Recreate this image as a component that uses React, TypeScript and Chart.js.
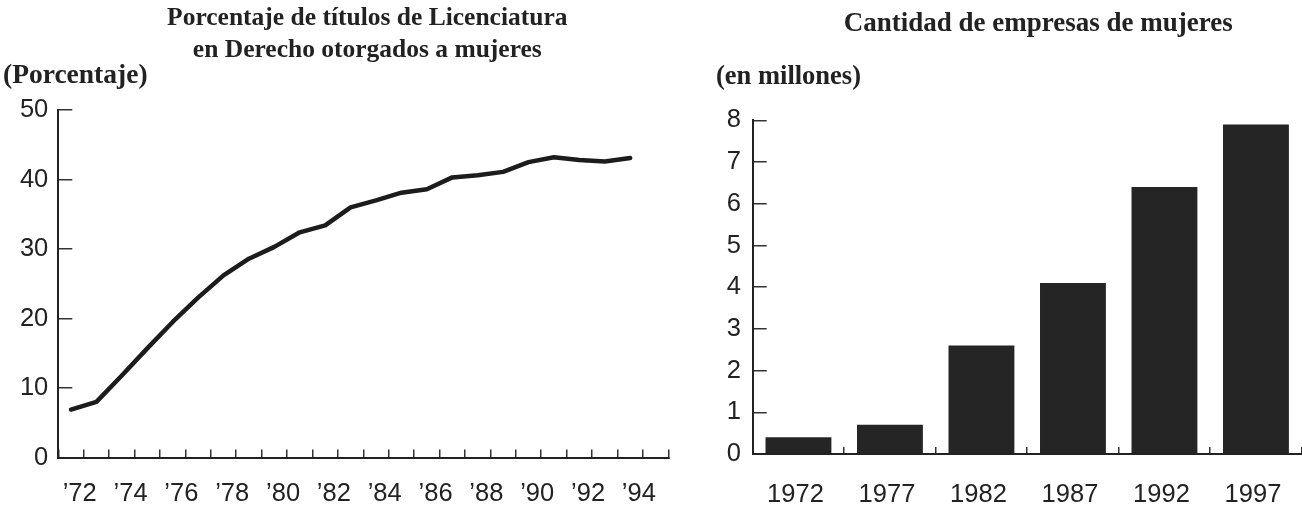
import React, { useEffect, useRef } from "react";
import { Chart, registerables } from "chart.js";

Chart.register(...registerables);

// ---------- Data ----------
// Left chart: academic years (start year, 2-digit) and percentage of law degrees awarded to women
const academicYearStarts = [71, 72, 73, 74, 75, 76, 77, 78, 79, 80, 81, 82, 83, 84, 85, 86, 87, 88, 89, 90, 91, 92, 93];
const lawDegreePercent = [6.9, 8.0, 11.8, 15.7, 19.5, 23.0, 26.2, 28.6, 30.3, 32.4, 33.4, 36.0, 37.0, 38.1, 38.6, 40.3, 40.6, 41.1, 42.5, 43.2, 42.8, 42.6, 43.1];
const leftTickYears = [72, 74, 76, 78, 80, 82, 84, 86, 88, 90, 92, 94];

// Right chart: women-owned businesses (millions)
const businessYears = ["1972", "1977", "1982", "1987", "1992", "1997"];
const businessMillions = [0.4, 0.7, 2.6, 4.1, 6.4, 7.9];

// Texts
const leftTitle = ["Porcentaje de títulos de Licenciatura", "en Derecho otorgados a mujeres"];
const leftUnit = "(Porcentaje)";
const rightTitle = "Cantidad de empresas de mujeres";
const rightUnit = "(en millones)";

// ---------- Styles ----------
const INK = "#222222";
const SANS = "'Liberation Sans', Arial, Helvetica, sans-serif";
const SERIF = "'Liberation Serif', 'Times New Roman', serif";

type TextItem = {
  text: string;
  x: (area: { left: number; right: number }) => number;
  y: number;
  align: CanvasTextAlign;
  size: number;
};

const makeTextPlugin = (id: string, items: TextItem[]) => ({
  id,
  afterDraw(chart: any) {
    const { ctx, chartArea } = chart;
    ctx.save();
    ctx.fillStyle = INK;
    ctx.textBaseline = "alphabetic";
    items.forEach((t) => {
      ctx.font = `bold ${t.size}px ${SERIF}`;
      ctx.textAlign = t.align;
      ctx.fillText(t.text, t.x(chartArea), t.y);
    });
    ctx.restore();
  },
});

const noSidePadding = (height: number) => (s: any) => {
  s.height = height;
  s.paddingLeft = 0;
  s.paddingRight = 0;
};

const LeftChart: React.FC = () => {
  const ref = useRef<HTMLCanvasElement | null>(null);
  useEffect(() => {
    if (!ref.current) return;
    const points = academicYearStarts.map((y, i) => ({ x: y + 0.5, y: lawDegreePercent[i] }));
    const texts = makeTextPlugin("leftTexts", [
      { text: leftTitle[0], x: (a) => (a.left + a.right) / 2 + 4, y: 25, align: "center", size: 25.5 },
      { text: leftTitle[1], x: (a) => (a.left + a.right) / 2 + 4, y: 57, align: "center", size: 25.5 },
      { text: leftUnit, x: () => 3, y: 83, align: "left", size: 27.5 },
    ]);
    const chart = new Chart(ref.current, {
      type: "line",
      data: {
        datasets: [
          {
            data: points,
            borderColor: "#1c1c1c",
            borderWidth: 4.5,
            pointRadius: 0,
            tension: 0,
            borderCapStyle: "round",
            borderJoinStyle: "round",
            fill: false,
          },
        ],
      },
      options: {
        responsive: false,
        animation: false,
        layout: { padding: { top: 110, right: 11.7, left: 0, bottom: 0 } },
        plugins: { legend: { display: false }, tooltip: { enabled: false }, title: { display: false } },
        scales: {
          x: {
            type: "linear",
            min: 71,
            max: 95,
            afterFit: noSidePadding(50.5),
            afterBuildTicks: (s: any) => {
              const t = [];
              for (let v = 71; v <= 95; v++) t.push({ value: v });
              s.ticks = t;
            },
            ticks: {
              autoSkip: false,
              maxRotation: 0,
              minRotation: 0,
              padding: 29,
              labelOffset: -4,
              color: INK,
              font: { family: SANS, size: 25.5 },
              callback: (v: any) => (leftTickYears.includes(Number(v)) ? "\u2019" + v : ""),
            },
            grid: { drawOnChartArea: false, drawTicks: true, tickLength: -8, color: "#333", lineWidth: 1.5 },
            border: { display: true, color: INK, width: 2 },
          },
          y: {
            min: 0,
            max: 50,
            afterFit: (s: any) => {
              s.width = 58.3;
            },
            ticks: {
              stepSize: 10,
              padding: 24,
              color: INK,
              font: { family: SANS, size: 25.5 },
            },
            grid: { drawOnChartArea: false, drawTicks: true, tickLength: -14, color: "#333", lineWidth: 1.5 },
            border: { display: true, color: INK, width: 2 },
          },
        },
      },
      plugins: [texts],
    } as any);
    return () => chart.destroy();
  }, []);
  return <canvas ref={ref} width={680} height={508} style={{ position: "absolute", left: 0, top: 0 }} />;
};

const RightChart: React.FC = () => {
  const ref = useRef<HTMLCanvasElement | null>(null);
  useEffect(() => {
    if (!ref.current) return;
    const texts = makeTextPlugin("rightTexts", [
      { text: rightTitle, x: (a) => (a.left + a.right) / 2 + 11, y: 31, align: "center", size: 27 },
      { text: rightUnit, x: () => 36, y: 84, align: "left", size: 26.5 },
    ]);
    const chart = new Chart(ref.current, {
      type: "bar",
      data: {
        labels: businessYears,
        datasets: [
          {
            data: businessMillions,
            backgroundColor: "#252525",
            borderWidth: 0,
            barPercentage: 0.72,
            categoryPercentage: 1,
          },
        ],
      },
      options: {
        responsive: false,
        animation: false,
        layout: { padding: { top: 120.4, right: 0.3, left: 0, bottom: 0 } },
        plugins: { legend: { display: false }, tooltip: { enabled: false }, title: { display: false } },
        scales: {
          x: {
            type: "category",
            offset: true,
            afterFit: noSidePadding(54),
            ticks: {
              autoSkip: false,
              maxRotation: 0,
              minRotation: 0,
              padding: 33,
              labelOffset: -3,
              color: INK,
              font: { family: SANS, size: 25.5 },
            },
            grid: { offset: true, drawOnChartArea: false, drawTicks: true, tickLength: -7, color: "#333", lineWidth: 1.5 },
            border: { display: true, color: INK, width: 2 },
          },
          y: {
            min: 0,
            max: 8,
            afterFit: (s: any) => {
              s.width = 72.7;
            },
            ticks: {
              stepSize: 1,
              padding: 25.7,
              color: INK,
              font: { family: SANS, size: 25.5 },
            },
            grid: { drawOnChartArea: false, drawTicks: true, tickLength: -14, color: "#333", lineWidth: 1.5 },
            border: { display: true, color: INK, width: 2 },
          },
        },
      },
      plugins: [texts],
    } as any);
    return () => chart.destroy();
  }, []);
  return <canvas ref={ref} width={622} height={508} style={{ position: "absolute", left: 680, top: 0 }} />;
};

export default function App() {
  return (
    <div style={{ position: "absolute", left: 0, top: 0, width: 1302, height: 508, background: "#fff" }}>
      <LeftChart />
      <RightChart />
    </div>
  );
}
